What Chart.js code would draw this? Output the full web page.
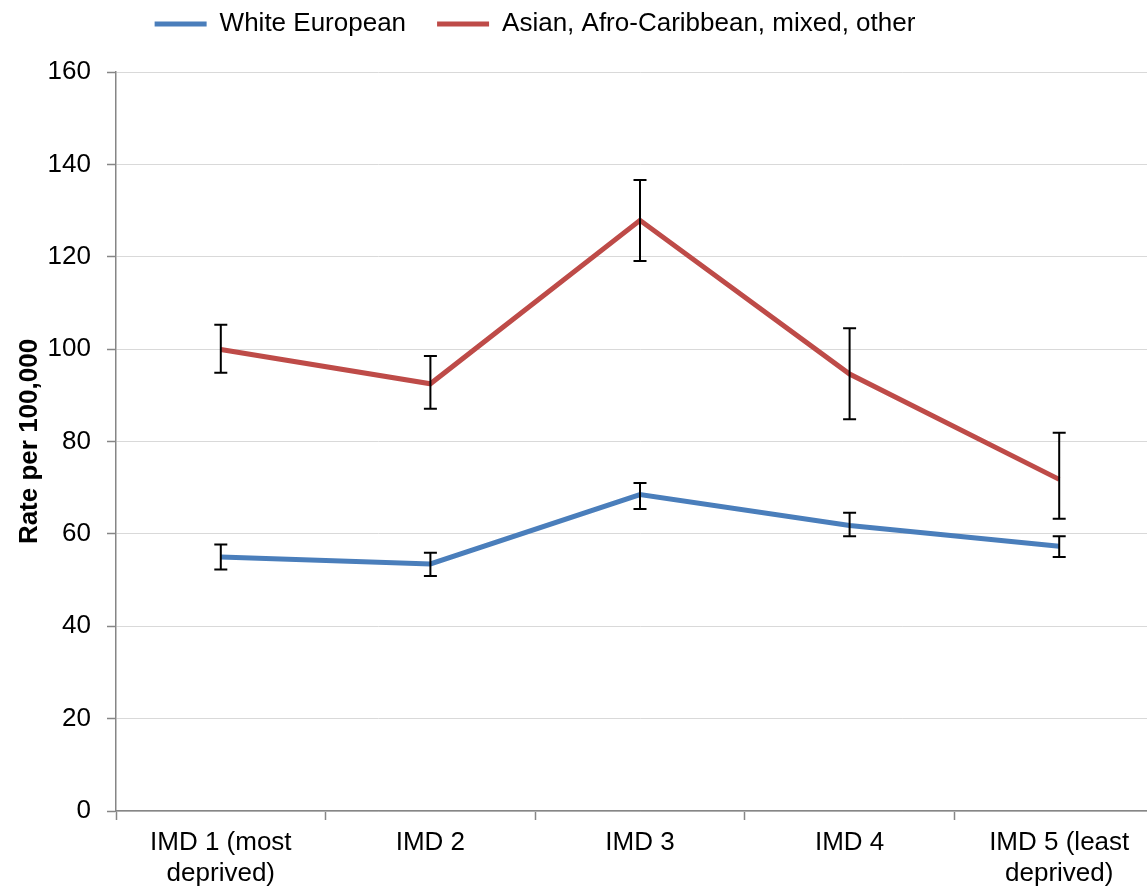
<!DOCTYPE html>
<html>
<head>
<meta charset="utf-8">
<title>Rate per 100,000 by IMD</title>
<script src="https://cdn.jsdelivr.net/npm/chart.js@4"></script>
<style>
    html, body { margin: 0; padding: 0; background: #fff; overflow: hidden; }
    #grafico { display: block; }
</style>
</head>
<body>
<canvas id="grafico" width="1166" height="888"></canvas>
<script>
// dados
const categorias = [
    ['IMD 1 (most', 'deprived)'],
    'IMD 2',
    'IMD 3',
    'IMD 4',
    ['IMD 5 (least', 'deprived)']
];
const brancos = [55.0, 53.5, 68.5, 61.8, 57.3];
const brancosMax = [57.7, 55.9, 71.0, 64.6, 59.5];
const brancosMin = [52.3, 50.9, 65.4, 59.5, 55.0];
const outros = [99.9, 92.5, 127.9, 94.6, 71.8];
const outrosMax = [105.3, 98.5, 136.6, 104.5, 81.9];
const outrosMin = [94.9, 87.1, 119.1, 84.8, 63.3];
const ticksY = [0, 20, 40, 60, 80, 100, 120, 140, 160];

const fonte = 'Liberation Sans, Arial, sans-serif';

document.addEventListener('DOMContentLoaded', () => {

    // barras de erro desenhadas com as escalas do próprio gráfico
    const barrasErro = {
        id: 'barrasErro',
        afterDatasetsDraw(chart) {
            const { ctx, scales: { x, y } } = chart;
            const series = [[brancosMin, brancosMax], [outrosMin, outrosMax]];
            ctx.save();
            ctx.strokeStyle = '#000';
            ctx.lineWidth = 2;
            series.forEach(([min, max]) => {
                min.forEach((v, i) => {
                    const px = x.getPixelForValue(i);
                    const y1 = y.getPixelForValue(max[i]);
                    const y2 = y.getPixelForValue(v);
                    ctx.beginPath();
                    ctx.moveTo(px, y1);
                    ctx.lineTo(px, y2);
                    ctx.moveTo(px - 6.5, y1);
                    ctx.lineTo(px + 6.5, y1);
                    ctx.moveTo(px - 6.5, y2);
                    ctx.lineTo(px + 6.5, y2);
                    ctx.stroke();
                });
            });
            ctx.restore();
        }
    };

    // ajustes da legenda: mais espaço embaixo e deslocada para a esquerda
    const ajusteLegenda = {
        id: 'ajusteLegenda',
        beforeInit(chart) {
            const fitOriginal = chart.legend.fit;
            chart.legend.fit = function () {
                fitOriginal.call(this);
                this.height += 25;
            };
        },
        afterLayout(chart) {
            chart.legend.right -= 94;
        }
    };

    const ctx = document.getElementById('grafico');
    new Chart(ctx, {
        type: 'line',
        data: {
            labels: categorias,
            datasets: [
                {
                    label: 'White European',
                    data: brancos,
                    borderColor: '#4a7ebb',
                    backgroundColor: '#4a7ebb',
                    borderWidth: 5,
                    pointRadius: 0,
                    tension: 0
                },
                {
                    label: 'Asian, Afro-Caribbean, mixed, other',
                    data: outros,
                    borderColor: '#be4b48',
                    backgroundColor: '#be4b48',
                    borderWidth: 5,
                    pointRadius: 0,
                    tension: 0
                }
            ]
        },
        options: {
            responsive: false,
            animation: false,
            layout: { padding: { top: -20, right: 2, bottom: 0, left: 0 } },
            plugins: {
                legend: {
                    position: 'top',
                    align: 'center',
                    labels: {
                        usePointStyle: true,
                        pointStyle: 'line',
                        pointStyleWidth: 52,
                        padding: 31,
                        color: '#000',
                        font: { family: fonte, size: 26 }
                    }
                },
                tooltip: { enabled: false }
            },
            scales: {
                x: {
                    offset: true,
                    afterFit(scale) {
                        scale.height = 77;
                    },
                    grid: {
                        offset: true,
                        drawOnChartArea: false,
                        drawTicks: true,
                        tickLength: 9,
                        tickColor: '#868686',
                        tickWidth: 1.5
                    },
                    border: { color: '#868686', width: 1.5 },
                    ticks: {
                        color: '#000',
                        padding: 7,
                        maxRotation: 0,
                        autoSkip: false,
                        font: { family: fonte, size: 26 }
                    }
                },
                y: {
                    min: ticksY[0],
                    max: ticksY[ticksY.length - 1],
                    afterBuildTicks(scale) {
                        scale.ticks = ticksY.map(v => ({ value: v }));
                    },
                    afterFit(scale) {
                        scale.width = 116;
                    },
                    grid: {
                        color: '#d9d9d9',
                        lineWidth: 1,
                        tickLength: 9,
                        tickColor: '#868686',
                        tickWidth: 1.5
                    },
                    border: { color: '#868686', width: 1.5 },
                    ticks: {
                        color: '#000',
                        padding: 16,
                        font: { family: fonte, size: 26 }
                    },
                    title: {
                        display: true,
                        text: 'Rate per 100,000',
                        color: '#000',
                        padding: { top: 14, bottom: 3 },
                        font: { family: fonte, size: 26, weight: 'bold' }
                    }
                }
            }
        },
        plugins: [barrasErro, ajusteLegenda]
    });
});
</script>
</body>
</html>
